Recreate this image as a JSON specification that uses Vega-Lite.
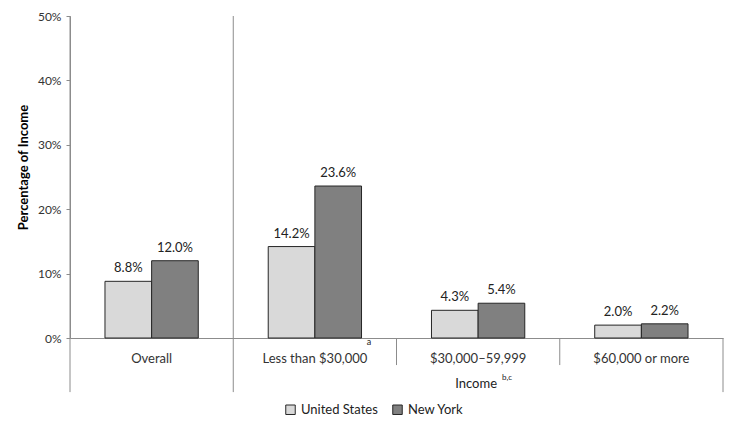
{
  "$schema": "https://vega.github.io/schema/vega-lite/v6.json",
  "width": 653,
  "height": 322,
  "autosize": {"type": "none"},
  "padding": {"left": 70, "top": 16, "right": 16, "bottom": 95},
  "background": "white",
  "config": {
    "view": {"stroke": null},
    "font": "Lato",
    "axis": {"grid": false, "domainColor": "#8c8c8c", "tickColor": "#8c8c8c", "labelColor": "#333333", "labelFont": "Lato"}
  },
  "datasets": {
    "bars": [
      {"category": "Overall", "series": "United States", "value": 0.088},
      {"category": "Overall", "series": "New York", "value": 0.120},
      {"category": "Less than $30,000", "series": "United States", "value": 0.142},
      {"category": "Less than $30,000", "series": "New York", "value": 0.236},
      {"category": "$30,000–59,999", "series": "United States", "value": 0.043},
      {"category": "$30,000–59,999", "series": "New York", "value": 0.054},
      {"category": "$60,000 or more", "series": "United States", "value": 0.020},
      {"category": "$60,000 or more", "series": "New York", "value": 0.022}
    ],
    "leftDividers": [
      {"category": "Overall", "top": 0.5, "bottom": -0.084},
      {"category": "Less than $30,000", "top": 0.5, "bottom": -0.084},
      {"category": "$30,000–59,999", "top": 0, "bottom": -0.042},
      {"category": "$60,000 or more", "top": 0, "bottom": -0.042}
    ],
    "rightDividers": [
      {"category": "$60,000 or more", "top": 0, "bottom": -0.084}
    ],
    "groupTitle": [
      {"category": "$30,000–59,999", "level": -0.072, "text": "Income", "sup": "b,c"}
    ],
    "footnote": [
      {"category": "Less than $30,000", "level": 0, "sup": "a"}
    ]
  },
  "layer": [
    {
      "data": {"name": "bars"},
      "mark": {"type": "bar", "stroke": "#262626", "strokeWidth": 1},
      "encoding": {
        "x": {
          "field": "category", "type": "nominal",
          "sort": ["Overall", "Less than $30,000", "$30,000–59,999", "$60,000 or more"],
          "scale": {"paddingInner": 0, "paddingOuter": 0},
          "axis": {"title": null, "labelAngle": 0, "ticks": false, "labelPadding": 14, "labelFontSize": 13, "domain": true}
        },
        "xOffset": {
          "field": "series", "type": "nominal",
          "sort": ["United States", "New York"],
          "scale": {"paddingInner": 0, "paddingOuter": 0.75}
        },
        "y": {
          "field": "value", "type": "quantitative",
          "scale": {"domain": [0, 0.5], "nice": false},
          "axis": {
            "title": "Percentage of Income", "titleFontSize": 13, "titleFontWeight": "bold", "titleColor": "#000000",
            "titlePadding": 7, "titleY": 151, "values": [0, 0.1, 0.2, 0.3, 0.4, 0.5], "format": ".0%",
            "tickSize": 4, "labelPadding": 5, "labelFontSize": 12
          }
        },
        "color": {
          "field": "series", "type": "nominal",
          "sort": ["United States", "New York"],
          "scale": {"domain": ["United States", "New York"], "range": ["#d9d9d9", "#808080"]},
          "legend": {
            "title": null, "orient": "none", "legendX": 214, "legendY": 387, "direction": "horizontal",
            "symbolType": "square", "symbolSize": 90, "symbolStrokeColor": "#262626", "symbolStrokeWidth": 1,
            "labelFontSize": 13, "labelColor": "#222222", "columnPadding": 12, "symbolOpacity": 1
          }
        }
      }
    },
    {
      "data": {"name": "bars"},
      "mark": {"type": "text", "baseline": "bottom", "dy": -6, "fontSize": 13, "color": "#222222"},
      "encoding": {
        "x": {"field": "category", "type": "nominal", "sort": ["Overall", "Less than $30,000", "$30,000–59,999", "$60,000 or more"]},
        "xOffset": {"field": "series", "type": "nominal", "sort": ["United States", "New York"]},
        "y": {"field": "value", "type": "quantitative"},
        "text": {"field": "value", "type": "quantitative", "format": ".1%"}
      }
    },
    {
      "data": {"name": "leftDividers"},
      "mark": {"type": "rule", "color": "#8c8c8c", "strokeWidth": 1},
      "encoding": {
        "x": {"field": "category", "type": "nominal", "bandPosition": 0, "sort": ["Overall", "Less than $30,000", "$30,000–59,999", "$60,000 or more"]},
        "y": {"field": "top", "type": "quantitative"},
        "y2": {"field": "bottom"}
      }
    },
    {
      "data": {"name": "rightDividers"},
      "mark": {"type": "rule", "color": "#8c8c8c", "strokeWidth": 1},
      "encoding": {
        "x": {"field": "category", "type": "nominal", "bandPosition": 1, "sort": ["Overall", "Less than $30,000", "$30,000–59,999", "$60,000 or more"]},
        "y": {"field": "top", "type": "quantitative"},
        "y2": {"field": "bottom"}
      }
    },
    {
      "data": {"name": "groupTitle"},
      "mark": {"type": "text", "fontSize": 13, "color": "#222222", "dx": -2, "baseline": "middle"},
      "encoding": {
        "x": {"field": "category", "type": "nominal", "sort": ["Overall", "Less than $30,000", "$30,000–59,999", "$60,000 or more"]},
        "y": {"field": "level", "type": "quantitative"},
        "text": {"field": "text"}
      }
    },
    {
      "data": {"name": "groupTitle"},
      "mark": {"type": "text", "fontSize": 8, "color": "#222222", "dx": 29, "dy": -6, "baseline": "middle"},
      "encoding": {
        "x": {"field": "category", "type": "nominal", "sort": ["Overall", "Less than $30,000", "$30,000–59,999", "$60,000 or more"]},
        "y": {"field": "level", "type": "quantitative"},
        "text": {"field": "sup"}
      }
    },
    {
      "data": {"name": "footnote"},
      "mark": {"type": "text", "fontSize": 9, "color": "#222222", "dx": 54, "dy": 4, "baseline": "middle"},
      "encoding": {
        "x": {"field": "category", "type": "nominal", "sort": ["Overall", "Less than $30,000", "$30,000–59,999", "$60,000 or more"]},
        "y": {"field": "level", "type": "quantitative"},
        "text": {"field": "sup"}
      }
    }
  ]
}
